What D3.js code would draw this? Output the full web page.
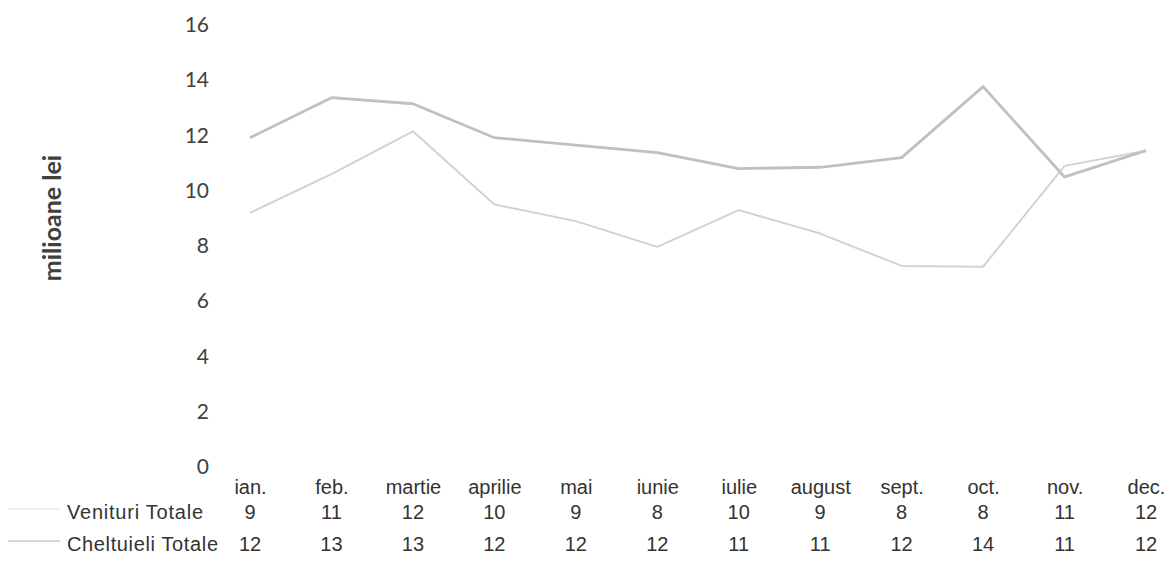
<!DOCTYPE html>
<html><head><meta charset="utf-8">
<script src="https://cdn.jsdelivr.net/npm/d3@7"></script>
<style>body{margin:0;background:#fff}svg{display:block}</style>
</head><body>
<svg id="c" width="1165" height="563"></svg>
<script>
const months = ["ian.","feb.","martie","aprilie","mai","iunie","iulie","august","sept.","oct.","nov.","dec."];
const venituri = [9.2,10.6,12.15,9.5,8.9,7.97,9.3,8.45,7.28,7.25,10.9,11.45];
const cheltuieli = [11.92,13.37,13.15,11.92,11.65,11.38,10.8,10.85,11.2,13.77,10.5,11.45];
const venituriTable = ["9","11","12","10","9","8","10","9","8","8","11","12"];
const cheltuieliTable = ["12","13","13","12","12","12","11","11","12","14","11","12"];
const yTicks = [0,2,4,6,8,10,12,14,16];
const seriesNames = ["Venituri Totale","Cheltuieli Totale"];

const svg = d3.select("#c");
const x = d3.scalePoint().domain(months).range([250,1146]);
const y = d3.scaleLinear().domain([0,16]).range([467,25]);

// y tick labels
const yAxis = d3.axisLeft(y).tickValues(yTicks).tickSize(0).tickPadding(0);
const ga = svg.append("g").attr("transform","translate(209,0)").call(yAxis);
ga.select(".domain").remove();
ga.selectAll("text").attr("font-family","Lato, 'Open Sans', sans-serif").attr("font-size",21).attr("fill","#404040");

svg.append("text").attr("transform","translate(61,218) rotate(-90)")
  .attr("text-anchor","middle").attr("font-family","Lato, 'Open Sans', sans-serif")
  .attr("font-weight","bold").attr("font-size",25).attr("fill","#404040").text("milioane lei");

const line = d3.line().x((d,i)=>x(months[i])).y(d=>y(d));
svg.append("path").datum(venituri).attr("d",line).attr("fill","none")
  .attr("stroke","#d2d2d6").attr("stroke-width",2).attr("stroke-linejoin","round");
svg.append("path").datum(cheltuieli).attr("d",line).attr("fill","none")
  .attr("stroke","#c0bfc3").attr("stroke-width",2.8).attr("stroke-linejoin","round");

// data table
const tf = "'Liberation Sans', Arial, sans-serif";
const xAxis = d3.axisBottom(x).tickSize(0).tickPadding(0);
const gx = svg.append("g").attr("transform","translate(0,480)").call(xAxis);
gx.select(".domain").remove();
gx.selectAll("text").attr("font-family",tf).attr("font-size",20).attr("fill","#333");

const rows = [
  {name:seriesNames[0], vals:venituriTable, y:519, color:"#e6e6e6"},
  {name:seriesNames[1], vals:cheltuieliTable, y:551, color:"#c8c8c8"}
];
rows.forEach(r=>{
  svg.append("line").attr("x1",8).attr("x2",60).attr("y1",r.y-10).attr("y2",r.y-10)
    .attr("stroke",r.color).attr("stroke-width",1.5);
  svg.append("text").attr("x",67).attr("y",r.y).attr("font-family",tf).attr("font-size",20)
    .attr("fill","#333").attr("textLength", r.name===seriesNames[0]?136:151).text(r.name);
  svg.append("g").selectAll("text").data(r.vals).join("text")
    .attr("x",(d,i)=>x(months[i])).attr("y",r.y).attr("text-anchor","middle")
    .attr("font-family",tf).attr("font-size",20).attr("fill","#333").text(d=>d);
});
</script>
</body></html>
